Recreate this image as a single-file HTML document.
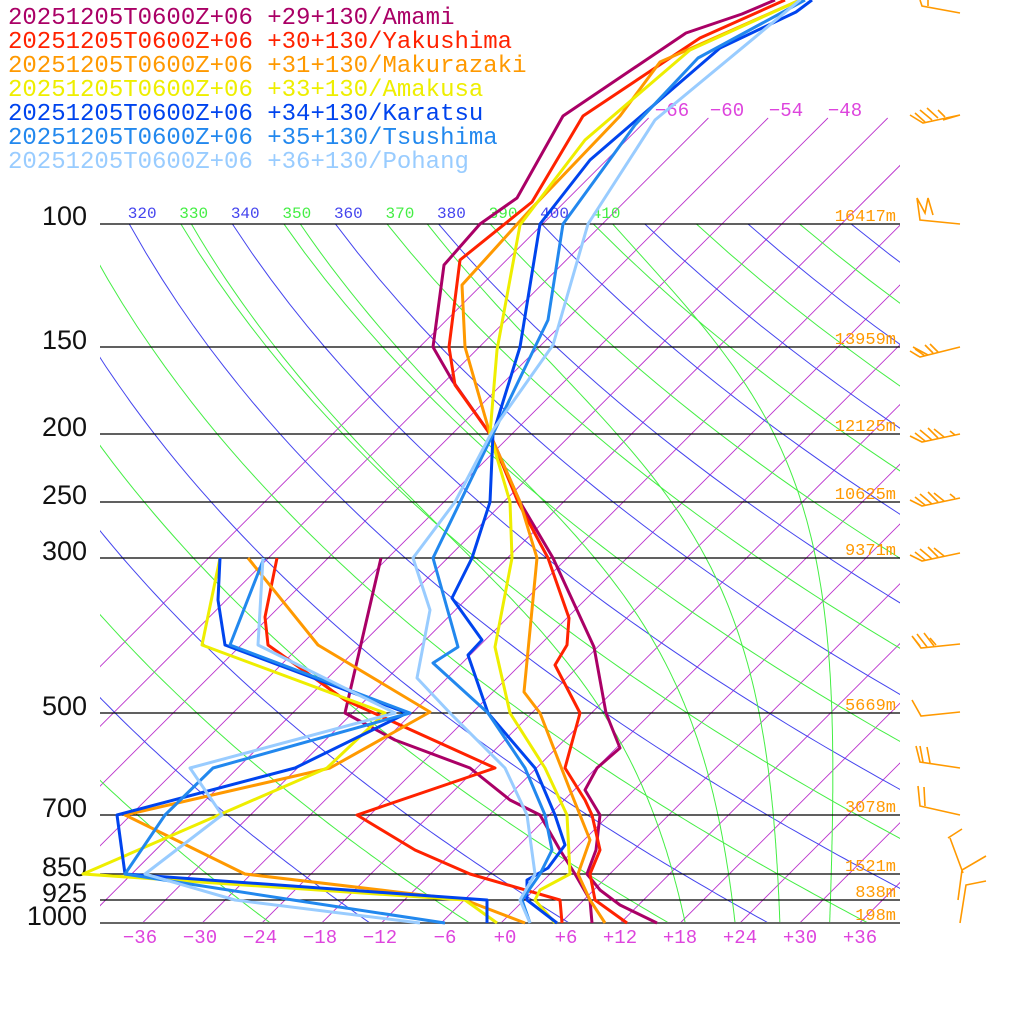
<!DOCTYPE html>
<html><head><meta charset="utf-8"><style>
html,body{margin:0;padding:0;background:#fff;width:1024px;height:1024px;overflow:hidden}
svg{display:block}
</style></head><body>
<svg id="s" width="1024" height="1024" xmlns="http://www.w3.org/2000/svg" font-family="Liberation Mono, DejaVu Sans Mono, monospace">
<defs><clipPath id="c"><rect x="100" y="110" width="800" height="813"/></clipPath>
<clipPath id="c2"><rect x="100" y="224" width="800" height="699"/></clipPath></defs>
<g id="bg"></g>
<g id="pl" stroke="#000" stroke-width="1.3">
<line x1="100" y1="224" x2="900" y2="224"/><line x1="100" y1="347" x2="900" y2="347"/>
<line x1="100" y1="434" x2="900" y2="434"/><line x1="100" y1="502" x2="900" y2="502"/>
<line x1="100" y1="558" x2="900" y2="558"/><line x1="100" y1="713" x2="900" y2="713"/>
<line x1="100" y1="815" x2="900" y2="815"/><line x1="100" y1="874" x2="900" y2="874"/>
<line x1="100" y1="900" x2="900" y2="900"/><line x1="100" y1="923" x2="900" y2="923" stroke="#666" stroke-width="2"/>
</g>
<g font-family="Liberation Sans, sans-serif" font-size="27" fill="#111" text-anchor="end">
<text x="87" y="225">100</text><text x="87" y="349">150</text><text x="87" y="436">200</text>
<text x="87" y="504">250</text><text x="87" y="560">300</text><text x="87" y="715">500</text>
<text x="87" y="817">700</text><text x="87" y="876">850</text><text x="87" y="902">925</text><text x="87" y="925">1000</text>
</g>
<g font-size="17" fill="#ff9900" text-anchor="end">
<text x="896" y="221">16417m</text><text x="896" y="344">13959m</text><text x="896" y="431">12125m</text>
<text x="896" y="499">10625m</text><text x="896" y="555">9371m</text><text x="896" y="710">5669m</text>
<text x="896" y="812">3078m</text><text x="896" y="871">1521m</text><text x="896" y="897">838m</text><text x="896" y="920">198m</text>
</g>
<g font-size="19" fill="#dd44dd" text-anchor="middle">
<text x="140" y="943">−36</text><text x="200" y="943">−30</text><text x="260" y="943">−24</text><text x="320" y="943">−18</text>
<text x="380" y="943">−12</text><text x="445" y="943">−6</text><text x="505" y="943">+0</text><text x="566" y="943">+6</text>
<text x="620" y="943">+12</text><text x="680" y="943">+18</text><text x="740" y="943">+24</text><text x="800" y="943">+30</text><text x="860" y="943">+36</text>
<text x="672" y="116">−66</text><text x="727" y="116">−60</text><text x="786" y="116">−54</text><text x="845" y="116">−48</text>
</g>
<g id="pr" fill="none" stroke-width="3" stroke-linejoin="round"></g>
<g font-size="24">
<text x="8" y="24" fill="#aa0066">20251205T0600Z+06 +29+130/Amami</text>
<text x="8" y="48" fill="#ff2200">20251205T0600Z+06 +30+130/Yakushima</text>
<text x="8" y="72" fill="#ff9900">20251205T0600Z+06 +31+130/Makurazaki</text>
<text x="8" y="96" fill="#eeee00">20251205T0600Z+06 +33+130/Amakusa</text>
<text x="8" y="120" fill="#0044ee">20251205T0600Z+06 +34+130/Karatsu</text>
<text x="8" y="144" fill="#2288ee">20251205T0600Z+06 +35+130/Tsushima</text>
<text x="8" y="168" fill="#99ccff">20251205T0600Z+06 +36+130/Pohang</text>
</g>
<g id="wb" stroke="#ff9900" stroke-width="1.6" fill="none"></g>
</svg>
<script>
const NS="http://www.w3.org/2000/svg";
function el(p,t,a){const e=document.createElementNS(NS,t);for(const k in a)e.setAttribute(k,a[k]);p.appendChild(e);return e;}
const yP=p=>923-303.6*Math.log(1000/p);
const X=(T,y)=>501+9.96*T+(923-y);
const bg=document.getElementById('bg');
const g1=el(bg,'g',{'clip-path':'url(#c)'});
for(let T=-66;T<=45;T+=6){el(g1,'line',{x1:X(T,923),y1:923,x2:X(T,118),y2:118,stroke:'#bb33cc','stroke-width':0.9});}
const g2=el(bg,'g',{'clip-path':'url(#c2)'});
for(let th=250;th<=460;th+=10){let pts=[];for(let p=100;p<=1000;p+=10){const T=th*Math.pow(p/1000,0.286)-273.15;const y=yP(p);pts.push(X(T,y).toFixed(1)+','+y.toFixed(1));}
el(g2,'polyline',{points:pts.join(' '),fill:'none',stroke:(th/10)%2==0?'#4444ee':'#44ee44','stroke-width':1});
const yy=224,T0=th*Math.pow(0.1,0.286)-273.15,xx=X(T0,yy);
if(xx>95&&xx<640){const t=el(bg,'text',{x:xx+13,y:218,'font-size':16,fill:(th/10)%2==0?'#4444ee':'#44ee44','text-anchor':'middle'});t.textContent=th;}}
function es(T){return 6.112*Math.exp(17.67*T/(T+243.5));}
[18.5,23.5,28,33].forEach(T0=>{let T=T0,p=1000,pts=[];while(p>=100){const y=yP(p);pts.push(X(T,y).toFixed(1)+','+y.toFixed(1));const Tk=T+273.15,rs=0.622*es(T)/(p-es(T));
const d=(287*Tk+2.5e6*rs)/(1004+2.5e6*2.5e6*rs*0.622/(287*Tk*Tk))/p;T-=d*5;p-=5;}
el(g2,'polyline',{points:pts.join(' '),fill:'none',stroke:'#44ee44','stroke-width':1});});
const pr=document.getElementById('pr');
const S=[
['#aa0066',"775,0 742,14 686,33 563,116 517,198 480,224 444,265 433,347 452,380 490,434 520,502 553,558 594,647 606,713 620,748 597,768 585,790 600,815 596,850 587,874 600,890 620,905 657,923","381,558 345,713 395,740 470,768 510,800 540,815 560,850 575,874 590,900 592,923"],
['#ff2200',"785,0 700,38 583,116 532,202 460,260 449,347 455,385 490,434 518,502 548,558 569,618 567,645 555,665 580,713 565,768 585,800 592,815 600,850 590,874 595,900 627,923","277,558 265,617 268,645 345,700 495,768 357,815 415,850 470,874 560,900 562,923"],
['#ff9900',"800,0 660,62 620,116 530,210 462,285 465,347 490,434 520,502 537,558 524,692 540,713 570,790 590,840 578,874 590,900 605,923","248,558 318,645 430,712 330,768 125,815 245,874 465,900 525,923"],
['#eeee00',"800,0 690,50 585,140 520,225 497,350 490,434 510,502 512,558 495,647 510,713 545,768 567,815 570,874 540,890 535,900 555,923","220,558 202,645 385,713 327,768 83,874 465,900 497,923"],
['#0044ee',"812,0 796,12 720,48 590,160 540,224 520,347 493,434 490,502 472,558 452,598 482,640 468,655 488,713 535,768 555,815 565,845 548,868 527,880 527,900 557,923","220,558 218,600 225,645 407,713 295,768 117,815 125,874 487,900 487,923"],
['#2288ee',"805,0 698,58 635,125 563,224 548,320 493,434 433,558 458,647 433,663 488,713 525,768 545,815 552,850 540,874 522,900 530,923","264,558 230,645 410,713 213,768 165,815 125,874 293,900 445,923"],
['#99ccff',"800,0 655,120 588,224 553,345 493,430 455,502 413,558 430,610 417,678 450,713 505,768 527,815 535,874 520,900 530,923","263,558 258,645 395,713 190,768 222,815 145,874 235,900 420,923"]];
S.forEach(s=>{el(pr,'polyline',{points:s[1],stroke:s[0]});el(pr,'polyline',{points:s[2],stroke:s[0]});});
const wb=document.getElementById('wb');
const P=["M920,0 L922,6 L960,13 M928,0 L928,6",
"M960,115 L923,123 L910,115 M960,115 L943,120 M915,113 L925,122 M920,110 L932,120 M927,108 L938,118 M938,110 L945,117",
"M960,224 L920,220 L917,198 L925,213 L928,198 L933,215",
"M960,347 L920,357 L910,351 L918,356 M915,349 L925,356 M913,347 L928,355 M925,345 L933,353 M930,344 L938,352",
"M960,434 L922,442 L910,436 M915,433 L925,441 M920,430 L932,440 M928,428 L938,438 M934,429 L944,437 M950,431 L955,435",
"M960,498 L922,506 L910,500 M915,497 L925,505 M920,494 L932,504 M928,492 L938,502 M934,493 L944,501 M950,494 L955,498",
"M960,553 L922,561 L910,555 M915,552 L925,560 M920,549 L932,559 M928,547 L938,557 M934,548 L944,556",
"M960,644 L921,648 L912,636 L920,646 M917,634 L927,647 M924,633 L934,646 M930,638 L936,645",
"M960,712 L921,716 L912,700",
"M960,768 L920,762 L916,746 M923,762 L920,746 M930,763 L927,747",
"M960,815 L920,806 L918,786 M925,806 L924,787",
"M948,838 L962,829 M950,838 L963,873 M958,900 L962,870 L986,856 M960,923 L966,885 L986,881"];
P.forEach(d=>el(wb,'path',{d:d}));
</script>
</body></html>
